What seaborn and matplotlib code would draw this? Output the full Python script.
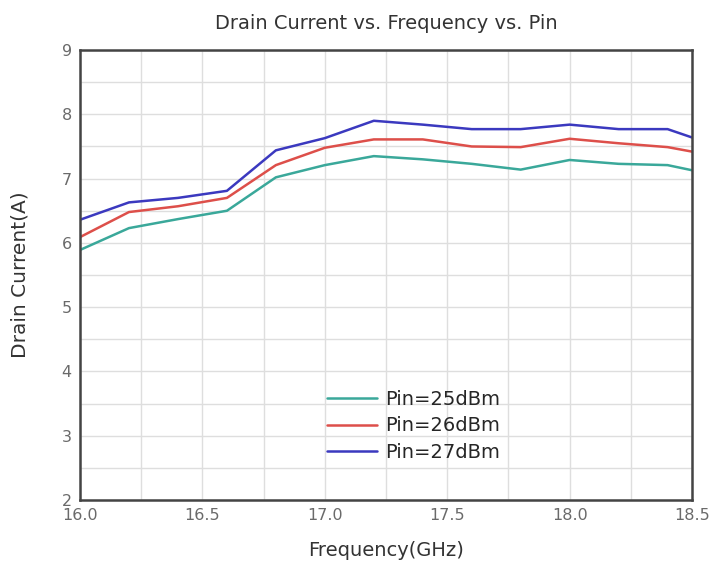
import pandas as pd
import matplotlib
matplotlib.use("Agg")
import matplotlib.pyplot as plt
import seaborn as sns
from matplotlib.ticker import MultipleLocator

# frequency points (GHz)
freq = [16.0, 16.2, 16.4, 16.6, 16.8, 17.0, 17.2, 17.4, 17.6, 17.8, 18.0, 18.2, 18.4, 18.5]

# drain current (A) per input power
pin25 = [5.89, 6.23, 6.37, 6.50, 7.02, 7.21, 7.35, 7.30, 7.23, 7.14, 7.29, 7.23, 7.21, 7.13]
pin26 = [6.09, 6.48, 6.57, 6.70, 7.21, 7.48, 7.61, 7.61, 7.50, 7.49, 7.62, 7.55, 7.49, 7.42]
pin27 = [6.36, 6.63, 6.70, 6.81, 7.44, 7.63, 7.90, 7.84, 7.77, 7.77, 7.84, 7.77, 7.77, 7.64]

labels = ["Pin=25dBm", "Pin=26dBm", "Pin=27dBm"]
colors = ["#3aa89a", "#dd4f4a", "#3b39bf"]

df = pd.DataFrame({
    "freq": freq * 3,
    "current": pin25 + pin26 + pin27,
    "Pin": [labels[0]] * len(freq) + [labels[1]] * len(freq) + [labels[2]] * len(freq),
})

sns.set_style("white")
plt.rcParams["font.family"] = ["DejaVu Sans"]
fig = plt.figure(figsize=(7.12, 5.69), dpi=100)
ax = fig.add_axes([0.1124, 0.1213, 0.8596, 0.7907])

sns.lineplot(data=df, x="freq", y="current", hue="Pin", palette=colors,
             linewidth=1.8, ax=ax)

ax.set_xlim(16.0, 18.5)
ax.set_ylim(2, 9)
ax.xaxis.set_major_locator(MultipleLocator(0.5))
ax.xaxis.set_minor_locator(MultipleLocator(0.25))
ax.yaxis.set_major_locator(MultipleLocator(1))
ax.yaxis.set_minor_locator(MultipleLocator(0.5))
ax.xaxis.set_major_formatter(matplotlib.ticker.FormatStrFormatter("%.1f"))
ax.grid(True, which="both", color="#dedede", linewidth=1.0)
ax.set_axisbelow(True)
ax.tick_params(which="both", length=0, labelsize=11.5, labelcolor="#6a6a6a", pad=6)

for s in ax.spines.values():
    s.set_color("#444444")
    s.set_linewidth(1.8)

ax.set_title("Drain Current vs. Frequency vs. Pin", fontsize=14, color="#333333", pad=15)
ax.set_xlabel("Frequency(GHz)", fontsize=14, color="#333333", labelpad=13)
ax.set_ylabel("Drain Current(A)", fontsize=14.5, color="#333333", labelpad=23)

ax.legend(frameon=False, fontsize=14, loc="lower center",
          bbox_to_anchor=(0.545, 0.045), handlelength=2.6, labelspacing=0.4,
          handletextpad=0.4)

fig.savefig("out.png", dpi=100)
